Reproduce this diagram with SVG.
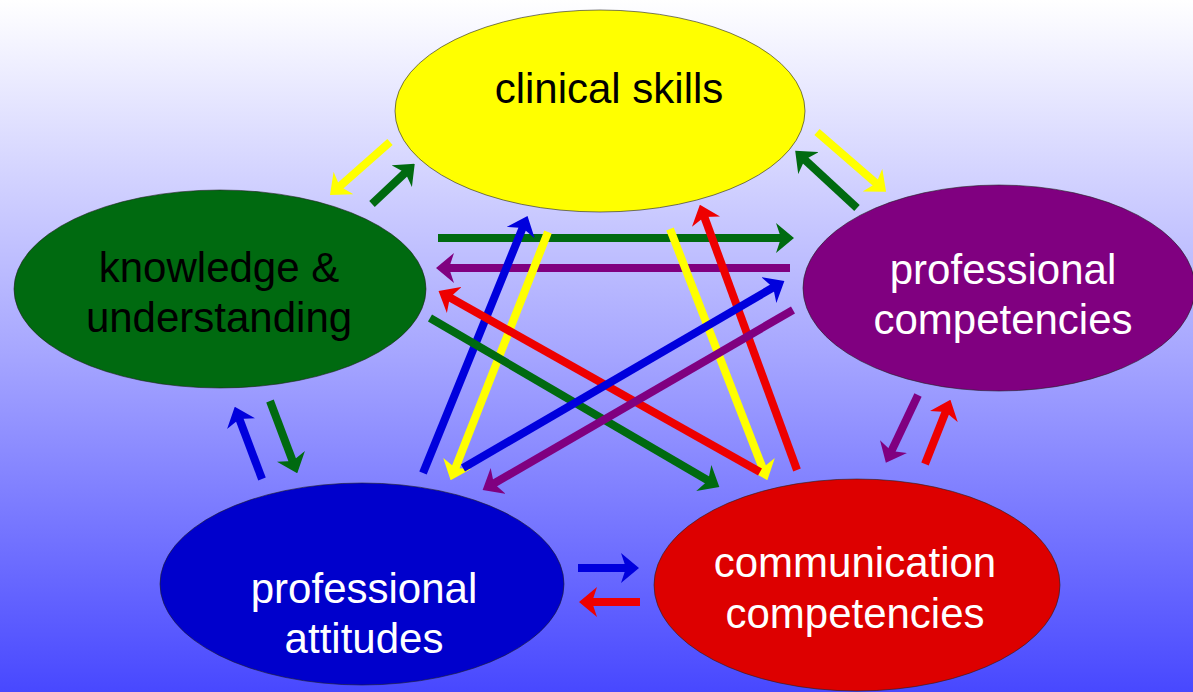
<svg xmlns="http://www.w3.org/2000/svg" width="1193" height="692" viewBox="0 0 1193 692">
<defs>
<linearGradient id="bg" x1="0" y1="0" x2="0" y2="1">
<stop offset="0" stop-color="#ffffff"/>
<stop offset="0.5" stop-color="#a8a8ff"/>
<stop offset="1" stop-color="#4848ff"/>
</linearGradient>
<marker id="mY" viewBox="0 0 18 30" markerUnits="userSpaceOnUse" markerWidth="18" markerHeight="30" refX="6" refY="15" orient="auto"><path d="M0,0 L18,15 L0,30 L5,15 z" fill="#ffff00"/></marker>
<marker id="mG" viewBox="0 0 18 30" markerUnits="userSpaceOnUse" markerWidth="18" markerHeight="30" refX="6" refY="15" orient="auto"><path d="M0,0 L18,15 L0,30 L5,15 z" fill="#006a10"/></marker>
<marker id="mP" viewBox="0 0 18 30" markerUnits="userSpaceOnUse" markerWidth="18" markerHeight="30" refX="6" refY="15" orient="auto"><path d="M0,0 L18,15 L0,30 L5,15 z" fill="#800080"/></marker>
<marker id="mB" viewBox="0 0 18 30" markerUnits="userSpaceOnUse" markerWidth="18" markerHeight="30" refX="6" refY="15" orient="auto"><path d="M0,0 L18,15 L0,30 L5,15 z" fill="#0000dd"/></marker>
<marker id="mR" viewBox="0 0 18 30" markerUnits="userSpaceOnUse" markerWidth="18" markerHeight="30" refX="6" refY="15" orient="auto"><path d="M0,0 L18,15 L0,30 L5,15 z" fill="#ee0000"/></marker>
</defs>
<style>
.node{stroke:#222;stroke-width:1;stroke-opacity:0.6}
.lbl{font-family:"Liberation Sans",Arial,sans-serif;font-size:42px;text-anchor:middle}
.dark{fill:#000}
.light{fill:#fff}
.a{stroke-width:8;fill:none}
.y{stroke:#ffff00;marker-end:url(#mY)}
.g{stroke:#006a10;marker-end:url(#mG)}
.p{stroke:#800080;marker-end:url(#mP)}
.b{stroke:#0000dd;marker-end:url(#mB)}
.r{stroke:#ee0000;marker-end:url(#mR)}
</style>
<rect x="0" y="0" width="1193" height="692" fill="url(#bg)"/>
<g id="connectors">
<line class="a y" x1="390" y1="142" x2="339" y2="187"/>
<line class="a g" x1="372" y1="204" x2="406" y2="172"/>
<line class="a y" x1="817" y1="132" x2="877" y2="184"/>
<line class="a g" x1="857" y1="208" x2="804" y2="159"/>
<line class="a g" x1="438" y1="238" x2="782" y2="238"/>
<line class="a p" x1="790" y1="268" x2="448" y2="268"/>
<line class="a b" x1="423" y1="473" x2="523" y2="227"/>
<line class="a y" x1="548" y1="232" x2="455" y2="469"/>
<line class="a y" x1="670" y1="229" x2="763" y2="469"/>
<line class="a r" x1="797" y1="470" x2="704" y2="216"/>
<line class="a r" x1="760" y1="472" x2="449" y2="297"/>
<line class="a g" x1="430" y1="318" x2="709" y2="481"/>
<line class="a b" x1="463" y1="468" x2="774" y2="287"/>
<line class="a p" x1="793" y1="310" x2="493" y2="484"/>
<line class="a b" x1="262" y1="479" x2="239" y2="418"/>
<line class="a g" x1="270" y1="401" x2="293" y2="462"/>
<line class="a p" x1="918" y1="395" x2="891" y2="452"/>
<line class="a r" x1="925" y1="464" x2="946" y2="411"/>
<line class="a b" x1="578" y1="568" x2="627" y2="568"/>
<line class="a r" x1="640" y1="602" x2="591" y2="602"/>
</g>
<g id="clinical-skills">
<ellipse class="node" cx="600" cy="111" rx="205" ry="101" fill="#ffff00"/>
<text class="lbl dark" x="609" y="103">clinical skills</text>
</g>
<g id="knowledge-understanding">
<ellipse class="node" cx="220" cy="289" rx="206" ry="99" fill="#006a10"/>
<text class="lbl dark" x="219" y="282">knowledge &amp;</text>
<text class="lbl dark" x="219" y="332">understanding</text>
</g>
<g id="professional-competencies">
<ellipse class="node" cx="999" cy="288" rx="196" ry="103" fill="#800080"/>
<text class="lbl light" x="1003" y="284">professional</text>
<text class="lbl light" x="1003" y="334">competencies</text>
</g>
<g id="professional-attitudes">
<ellipse class="node" cx="362" cy="584" rx="202" ry="101" fill="#0000cc"/>
<text class="lbl light" x="364" y="603">professional</text>
<text class="lbl light" x="364" y="653">attitudes</text>
</g>
<g id="communication-competencies">
<ellipse class="node" cx="857" cy="585" rx="203" ry="106" fill="#dd0000"/>
<text class="lbl light" x="855" y="577">communication</text>
<text class="lbl light" x="855" y="628">competencies</text>
</g>
</svg>
